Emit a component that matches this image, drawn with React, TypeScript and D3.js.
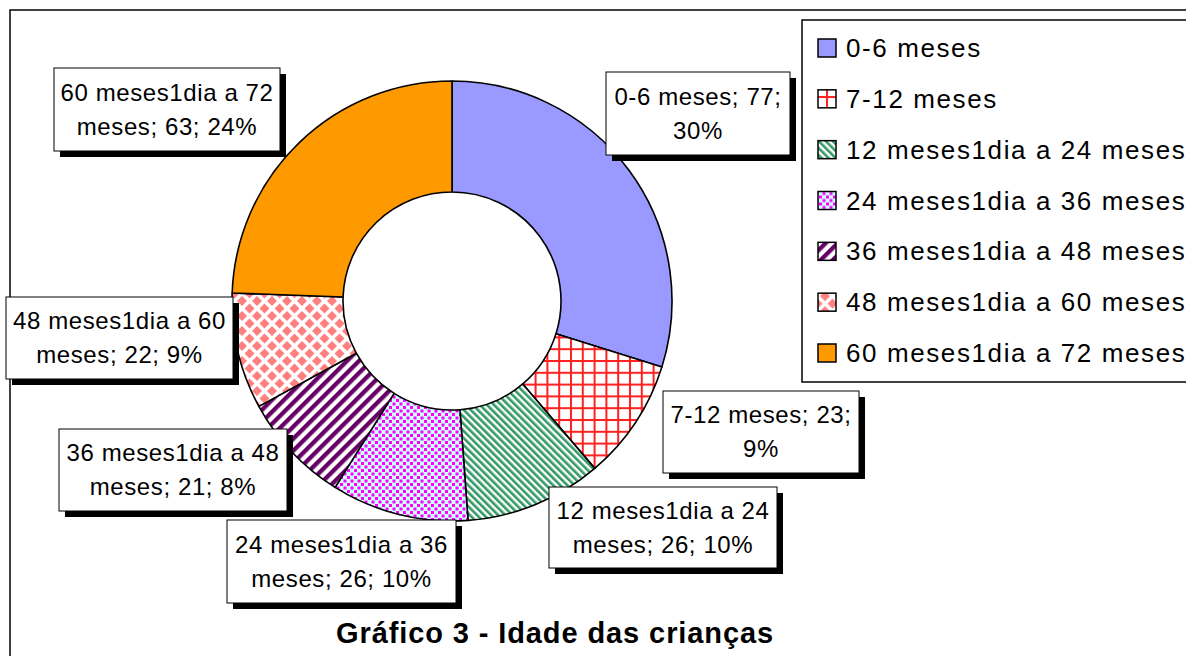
import React from "react";
import * as d3 from "d3";

const categories = [
  "0-6 meses",
  "7-12 meses",
  "12 meses1dia a 24 meses",
  "24 meses1dia a 36 meses",
  "36 meses1dia a 48 meses",
  "48 meses1dia a 60 meses",
  "60 meses1dia a 72 meses",
];
const values = [77, 23, 26, 26, 21, 22, 63];
const title = "Gráfico 3 - Idade das crianças";

const fills = [
  "#9999FF",
  "url(#pGrid)",
  "url(#pGreen)",
  "url(#pDots)",
  "url(#pPurple)",
  "url(#pDiamond)",
  "#FF9900",
];

// layout of the data-label boxes (position, size, number of words on first line)
const labelBoxes = [
  { x: 606, y: 72, w: 184, h: 83, split: 3 },
  { x: 663, y: 391, w: 196, h: 82, split: 3 },
  { x: 549, y: 487, w: 228, h: 81, split: 4 },
  { x: 227, y: 520, w: 229, h: 83, split: 4 },
  { x: 59, y: 429, w: 228, h: 82, split: 4 },
  { x: 6, y: 297, w: 227, h: 82, split: 4 },
  { x: 54, y: 68, w: 226, h: 83, split: 4 },
];

const W = 1186;
const H = 656;
const cx = 452;
const cy = 301;
const rOuter = 220;
const rInner = 109;
const FONT = "'Liberation Sans', Arial, sans-serif";

export default function App() {
  const total = d3.sum(values);
  const pie = d3.pie<number>().sort(null).value((d) => d);
  const arcs = pie(values);
  const arc = d3.arc<d3.PieArcDatum<number>>().innerRadius(rInner).outerRadius(rOuter);

  const legendY = d3.scaleLinear().domain([0, categories.length - 1]).range([57, 362]);

  return (
    <div style={{ position: "absolute", left: 0, top: 0 }}>
      <svg width={W} height={H} style={{ display: "block", background: "#fff" }}>
        <defs>
          <pattern id="pGrid" width={11.8} height={11.8} patternUnits="userSpaceOnUse">
            <rect width={11.8} height={11.8} fill="#fff" />
            <rect x={0} y={0} width={11.8} height={2} fill="#FF2020" />
            <rect x={0} y={0} width={2} height={11.8} fill="#FF2020" />
          </pattern>
          <pattern id="pGreen" width={5} height={5} patternUnits="userSpaceOnUse" patternTransform="rotate(-45)">
            <rect width={5} height={5} fill="#fff" />
            <rect width={2.6} height={5} fill="#339966" />
          </pattern>
          <pattern id="pPurple" width={8.5} height={8.5} patternUnits="userSpaceOnUse" patternTransform="rotate(45)">
            <rect width={8.5} height={8.5} fill="#fff" />
            <rect width={4.3} height={8.5} fill="#660066" />
          </pattern>
          <pattern id="pDots" width={7} height={7} patternUnits="userSpaceOnUse">
            <rect width={7} height={7} fill="#CCFFFF" />
            <rect x={0} y={0} width={3} height={3} fill="#FF00FF" />
            <rect x={3.5} y={3.5} width={3} height={3} fill="#FF00FF" />
          </pattern>
          <pattern id="pDiamond" width={15} height={15} patternUnits="userSpaceOnUse">
            <rect width={15} height={15} fill="#fff" />
            <path d="M7.5,2.5 L12.5,7.5 L7.5,12.5 L2.5,7.5 Z" fill="#FF8080" />
            <path d="M0,-5 L5,0 L0,5 L-5,0 Z" fill="#FF8080" />
            <path d="M15,-5 L20,0 L15,5 L10,0 Z" fill="#FF8080" />
            <path d="M0,10 L5,15 L0,20 L-5,15 Z" fill="#FF8080" />
            <path d="M15,10 L20,15 L15,20 L10,15 Z" fill="#FF8080" />
          </pattern>
        </defs>

        {/* chart frame */}
        <rect x={10} y={10} width={W + 20} height={H + 20} fill="#fff" stroke="#000" strokeWidth={1.5} />

        {/* donut */}
        <g transform={`translate(${cx},${cy})`}>
          {arcs.map((a, i) => (
            <path key={i} d={arc(a) || ""} fill={fills[i]} stroke="#000" strokeWidth={1.6} strokeLinejoin="round" />
          ))}
        </g>

        {/* data labels */}
        {arcs.map((a, i) => {
          const b = labelBoxes[i];
          const pct = Math.round((values[i] / total) * 100);
          const words = `${categories[i]}; ${values[i]}; ${pct}%`.split(" ");
          const l1 = words.slice(0, b.split).join(" ");
          const l2 = words.slice(b.split).join(" ");
          return (
            <g key={i}>
              <rect x={b.x + 6} y={b.y + 6} width={b.w} height={b.h} fill="#000" />
              <rect x={b.x} y={b.y} width={b.w} height={b.h} fill="#fff" stroke="#000" strokeWidth={1} />
              <text
                x={b.x + b.w / 2}
                y={b.y + b.h / 2 - 9}
                textAnchor="middle"
                fontFamily={FONT}
                fontSize={24}
                letterSpacing={0.6}
                fill="#000"
              >
                {l1}
              </text>
              <text
                x={b.x + b.w / 2}
                y={b.y + b.h / 2 + 25}
                textAnchor="middle"
                fontFamily={FONT}
                fontSize={24}
                letterSpacing={0.6}
                fill="#000"
              >
                {l2}
              </text>
            </g>
          );
        })}

        {/* legend */}
        <rect x={802} y={20} width={W} height={362} fill="#fff" stroke="#000" strokeWidth={1.5} />
        {categories.map((c, i) => (
          <g key={c} transform={`translate(0,${legendY(i)})`}>
            <rect x={818} y={-18} width={18} height={18} fill={fills[i]} stroke="#000" strokeWidth={1.5} />
            <text x={846} y={0} fontFamily={FONT} fontSize={26} letterSpacing={1.6} fill="#000">
              {c}
            </text>
          </g>
        ))}

        {/* title */}
        <text
          x={555}
          y={643}
          textAnchor="middle"
          fontFamily={FONT}
          fontSize={29}
          fontWeight="bold"
          letterSpacing={0.9}
          fill="#000"
        >
          {title}
        </text>
      </svg>
    </div>
  );
}
